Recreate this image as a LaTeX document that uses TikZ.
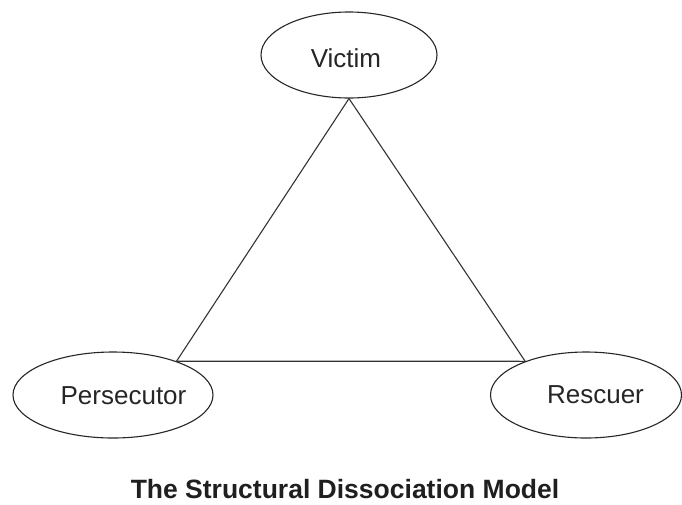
\documentclass[tikz,border=0pt]{standalone}
\usepackage{fontspec}
\setmainfont{Liberation Sans}
\usetikzlibrary{shapes.geometric}
\begin{document}
\begin{tikzpicture}[x=1pt,y=-1pt,
  role/.style={ellipse,draw=black!85,line width=1.1pt,inner sep=0pt},
  rolename/.style={anchor=base,inner sep=0pt,font=\fontsize{26}{30}\selectfont,text=black!85},
  side/.style={draw=black!80,line width=1.1pt},
  caption/.style={anchor=base,inner sep=0pt,font=\fontsize{26.5}{30}\selectfont\bfseries,text=black!88}]
  \useasboundingbox (0,0) rectangle (682,504);

  % the three roles
  \node[role,minimum width=176pt,minimum height=86pt] (victim) at (349,55) {};
  \node[role,minimum width=200pt,minimum height=86pt] (pers) at (113,395) {};
  \node[role,minimum width=191pt,minimum height=86pt] (resc) at (586,395) {};

  \node[rolename] (victimtext) at (346,67) {Victim};
  \node[rolename] (perstext) at (123.5,404) {Persecutor};
  \node[rolename] (resctext) at (595.5,403) {Rescuer};

  % triangle joining the roles
  \draw[side] (victim.south) -- (pers.28);
  \draw[side] (victim.south) -- (resc.151);
  \draw[side] (pers.28) -- (resc.151);

  \node[caption] (title) at (345,498) {The Structural Dissociation Model};
\end{tikzpicture}
\end{document}
